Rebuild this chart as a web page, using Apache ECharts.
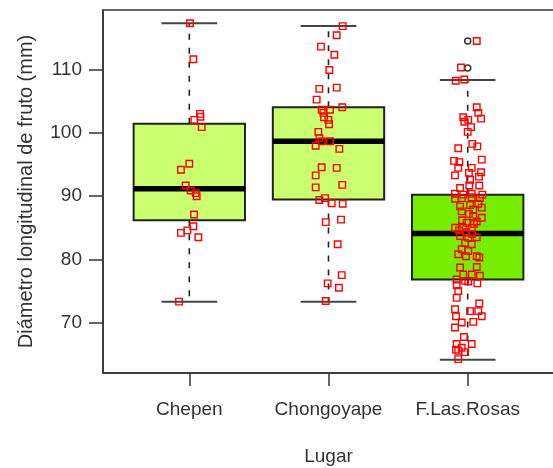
<!DOCTYPE html>
<html>
<head>
<meta charset="utf-8">
<script src="https://cdn.jsdelivr.net/npm/echarts@6/dist/echarts.min.js"></script>
<style>html,body{margin:0;padding:0;background:#fff}#c{width:553px;height:468px}</style>
</head>
<body>
<div id="c"></div>
<script>
// ---- data ----
const categories = ['Chepen', 'Chongoyape', 'F.Las.Rosas'];
// [lower whisker, Q1, median, Q3, upper whisker]
const boxStats = [
  [73.3, 86.2, 91.2, 101.5, 117.4],
  [73.3, 89.5, 98.7, 104.1, 116.95],
  [64.1, 76.8, 84.1, 90.25, 108.4]
];
const outliers = [[3, 114.6], [3, 110.3]];
const yTicks = [70, 80, 90, 100, 110];
// points: [jitter offset from group centre, value]
const chepenPts = [
  [0.005,117.4],[0.029,111.7],[0.077,103.05],[0.036,102.1],[0.080,102.6],[0.089,100.95],
  [0.0,95.15],[-0.060,94.2],[-0.026,91.7],[0.010,90.9],[0.046,90.5],[0.053,90.0],
  [0.034,87.1],[0.029,85.25],[-0.014,84.6],[-0.060,84.2],[0.065,83.5],[-0.074,73.3]
];
const chongoyapePts = [
  [0.102,116.95],[0.059,115.5],[-0.054,113.7],[0.042,112.4],[0.006,110.0],[-0.066,107.0],
  [0.059,107.2],[-0.085,105.3],[0.099,104.1],[-0.049,103.7],[-0.037,103.2],[0.011,103.7],
  [-0.032,102.5],[-0.001,102.1],[0.004,101.4],[-0.073,100.2],[-0.066,99.2],[-0.049,98.7],
  [0.011,98.7],[-0.092,98.0],[0.078,97.5],[-0.049,94.6],[0.059,94.5],[-0.092,93.3],
  [-0.092,91.4],[0.099,91.8],[-0.066,89.4],[-0.025,89.7],[0.023,88.9],[0.102,88.8],
  [-0.020,85.9],[0.090,86.3],[0.066,82.4],[0.095,77.5],[-0.006,76.2],[0.075,75.5],[-0.020,73.4]
];
const rosasPts = [
  [0.065,114.6],[-0.048,110.4],[-0.086,108.3],[-0.024,108.5],[0.065,104.1],[0.076,103.2],
  [-0.032,102.5],[0.096,102.3],[0.004,102.1],[-0.024,101.8],[0.024,100.95],[0.0,100.2],
  [-0.068,97.6],[0.033,98.3],[0.069,97.9],[0.101,95.8],[-0.098,95.6],[-0.060,95.4],
  [-0.068,94.5],[0.029,94.5],[0.096,93.8],[-0.091,93.3],[0.009,93.7],[0.081,93.1],
  [0.017,92.6],[0.083,91.7],[0.011,91.7],[-0.055,91.3],[-0.091,90.4],[0.029,90.4],
  [0.105,90.25],[-0.032,90.25],
  [-0.091,89.6],[-0.043,89.7],[0.029,89.8],[0.088,89.7],[-0.055,88.4],[0.017,88.6],
  [0.076,88.8],[-0.043,87.6],[0.040,87.9],[0.101,88.2],[0.040,86.8],[0.101,86.6],
  [-0.007,85.8],[0.065,86.0],[-0.091,85.0],[-0.032,85.0],[0.029,85.0],[-0.055,83.7],
  [0.004,83.4],[0.065,83.5],[-0.019,82.6],[0.029,82.4],[-0.043,81.6],[0.004,81.3],
  [-0.068,80.8],[-0.012,80.5],[0.065,80.5],[0.083,80.3],[0.065,78.8],[-0.055,78.7],
  [-0.032,77.6],[0.029,77.6],[0.088,77.4],[-0.079,76.8],[0.004,76.5],
  [-0.012,84.3],[0.031,84.0],[-0.062,84.6],[0.045,85.6],[-0.041,86.2],[0.009,87.2],
  [-0.079,75.9],[-0.019,76.6],[0.069,76.2],[-0.068,75.0],[-0.079,73.9],[0.083,73.0],
  [-0.091,72.1],[0.017,71.8],[0.076,71.8],[0.101,71.0],[-0.084,71.0],[-0.043,70.0],
  [0.040,70.1],[-0.091,69.2],[-0.027,67.7],[0.029,66.6],[-0.079,66.6],[-0.043,66.0],
  [-0.068,65.5],[-0.019,65.3],[-0.068,64.2],[-0.084,65.7]
];
const groupPts = [chepenPts, chongoyapePts, rosasPts];
const boxFills = ['#CAFF70', '#CAFF70', '#76EE00'];

// ---- build ----
const boxData = boxStats.map((s, i) => [i + 1].concat(s));
const pointData = [];
groupPts.forEach((arr, i) => arr.forEach(p => pointData.push([i + 1 + p[0], p[1]])));

const FONT = '"Liberation Sans", Arial, sans-serif';
const TXT = '#333';
const chart = echarts.init(document.getElementById('c'), null, {renderer: 'canvas'});
chart.setOption({
  animation: false,
  backgroundColor: '#fff',
  grid: {left: 103, top: 10, width: 451, height: 363, show: true, borderColor: '#333', borderWidth: 1.5,
         backgroundColor: 'transparent', containLabel: false, outerBoundsMode: 'none'},
  xAxis: {
    type: 'value', min: 0.38, max: 3.62,
    name: 'Lugar', nameLocation: 'middle', nameGap: 74,
    nameTextStyle: {fontFamily: FONT, fontSize: 19, color: TXT},
    splitLine: {show: false},
    axisLine: {show: true, onZero: false, lineStyle: {color: '#333', width: 1.5}},
    axisTick: {show: true, length: 13, inside: false, customValues: [1, 2, 3], lineStyle: {color: '#333', width: 1.5}},
    axisLabel: {show: true, margin: 27, customValues: [1, 2, 3], fontFamily: FONT, fontSize: 19, color: TXT,
      formatter: v => categories[Math.round(v) - 1] || ''}
  },
  yAxis: {
    type: 'value', min: 62.0, max: 119.5,
    name: 'Diámetro longitudinal de fruto (mm)', nameLocation: 'middle', nameGap: 67,
    nameTextStyle: {fontFamily: FONT, fontSize: 20, color: TXT},
    splitLine: {show: false},
    axisLine: {show: true, lineStyle: {color: '#333', width: 1.5}},
    axisTick: {show: true, length: 14, customValues: yTicks, lineStyle: {color: '#333', width: 1.5}},
    axisLabel: {show: true, margin: 21, customValues: yTicks, fontFamily: FONT, fontSize: 19, color: TXT}
  },
  series: [
    {
      type: 'custom', data: boxData, z: 2,
      encode: {x: 0, y: [1, 2, 3, 4, 5]},
      renderItem: function (params, api) {
        const x = api.value(0), lo = api.value(1), q1 = api.value(2), med = api.value(3), q3 = api.value(4), hi = api.value(5);
        const c = (a, b) => api.coord([a, b]);
        const hw = 0.4, cw = 0.2;
        const tl = c(x - hw, q3), br = c(x + hw, q1);
        const dash = {stroke: '#222', lineWidth: 1.6, lineDash: [6, 8]};
        const solid = {stroke: '#444', lineWidth: 2};
        const mk = (a, b, st) => ({type: 'line', shape: {x1: a[0], y1: a[1], x2: b[0], y2: b[1]}, style: st});
        return {type: 'group', children: [
          mk(c(x, q3), c(x, hi), dash),
          mk(c(x, q1), c(x, lo), dash),
          mk(c(x - cw, hi), c(x + cw, hi), solid),
          mk(c(x - cw, lo), c(x + cw, lo), solid),
          {type: 'rect', shape: {x: tl[0], y: tl[1], width: br[0] - tl[0], height: br[1] - tl[1]},
           style: {fill: boxFills[params.dataIndex], stroke: '#222', lineWidth: 2}},
          mk(c(x - hw, med), c(x + hw, med), {stroke: '#000', lineWidth: 5.5})
        ]};
      }
    },
    {
      type: 'scatter', data: outliers, z: 3, symbol: 'circle', symbolSize: 6,
      itemStyle: {color: 'rgba(0,0,0,0)', borderColor: '#000', borderWidth: 1.5}
    },
    {
      type: 'scatter', data: pointData, z: 4, symbol: 'rect', symbolSize: 6.5,
      itemStyle: {color: 'rgba(0,0,0,0)', borderColor: '#FF0000', borderWidth: 1.4, opacity: 1}
    }
  ]
});
</script>
</body>
</html>
